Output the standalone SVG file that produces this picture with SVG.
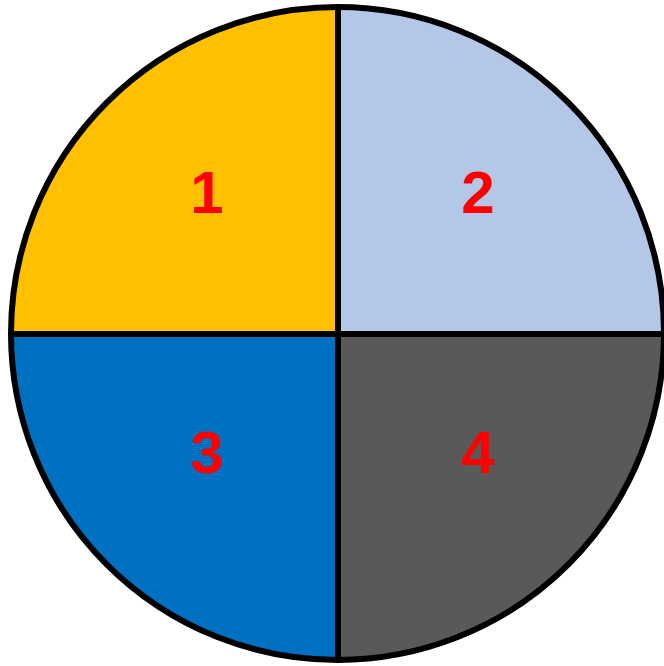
<svg xmlns="http://www.w3.org/2000/svg" width="664" height="666" viewBox="0 0 664 666">
<style>
.q{stroke:none}
.num{font-family:"Liberation Sans",Arial,sans-serif;font-weight:bold;font-size:60px;fill:#FF0000;text-anchor:middle}
.ln{stroke:#000;stroke-width:6;fill:none}
</style>
<rect width="664" height="666" fill="#fff"/>
<g id="q1"><path class="q" fill="#FFC000" d="M337.5,333.5 L337.5,7 A326.5,326.5 0 0 0 11,333.5 Z"/><text class="num" x="207" y="213">1</text></g>
<g id="q2"><path class="q" fill="#B4C7E7" d="M337.5,333.5 L337.5,7 A326.5,326.5 0 0 1 664,333.5 Z"/><text class="num" x="478" y="213">2</text></g>
<g id="q3"><path class="q" fill="#0070C0" d="M337.5,333.5 L11,333.5 A326.5,326.5 0 0 0 337.5,660 Z"/><text class="num" x="207" y="473">3</text></g>
<g id="q4"><path class="q" fill="#595959" d="M337.5,333.5 L664,333.5 A326.5,326.5 0 0 1 337.5,660 Z"/><text class="num" x="478" y="473">4</text></g>
<g id="connectors">
<circle class="ln" cx="337.5" cy="333.5" r="326.5"/>
<line class="ln" x1="338" y1="7" x2="338" y2="660"/>
<line class="ln" x1="11" y1="334" x2="664" y2="334"/>
</g>
</svg>
